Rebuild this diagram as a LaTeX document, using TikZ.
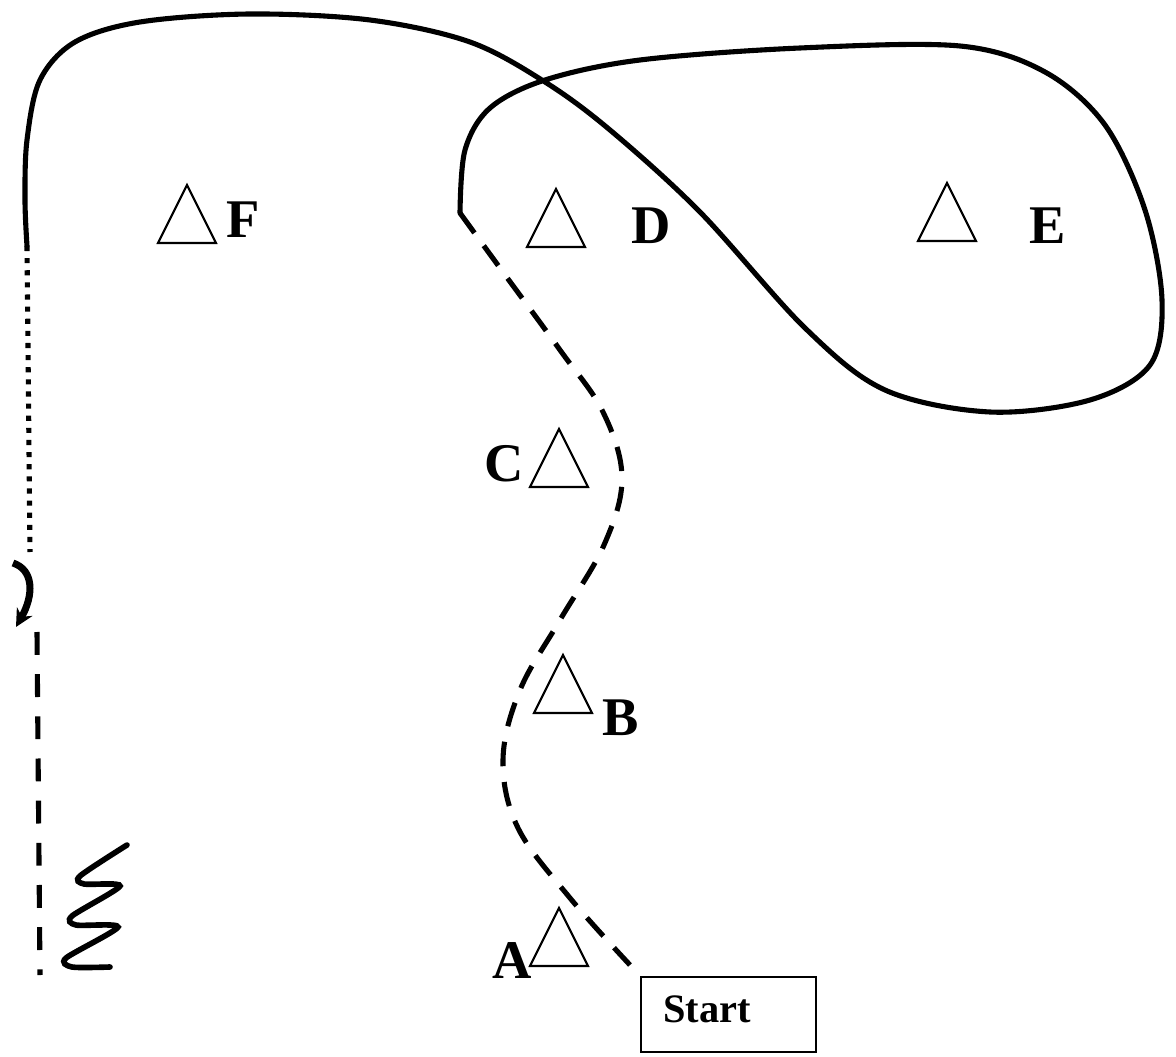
\documentclass[tikz,border=0pt]{standalone}
\usepackage{fontspec}
\setmainfont{Liberation Serif}
\usepackage{tikz}
\usetikzlibrary{arrows.meta, positioning, calc}
\definecolor{ink}{HTML}{000000}
\tikzset{
  lbl/.style={font=\fontsize{31}{31}\selectfont\bfseries, text=ink, inner sep=0pt},
  loopline/.style={line width=2.9pt, color=ink, line cap=round},
  trail/.style={line width=2.9pt, color=ink, dash pattern=on 14pt off 9pt},
  mark/.pic={\draw[line width=1.2pt, color=ink] (-29,0) -- (0,-58) -- (29,0) -- cycle;},
}

\begin{document}
\begin{tikzpicture}[x=0.02cm, y=-0.02cm]
  \useasboundingbox (0,0) rectangle (1176,1057);
  % triangles
  \foreach \px/\py in {187/243, 556/247, 947/241, 559/487, 563/713, 559/966}
    { \pic at (\px,\py) {mark}; }
  % letters
  \node[lbl] (lblF) at (243,220) {F};
  \node[lbl] (lblD) at (651,226) {D};
  \node[lbl] (lblE) at (1048,226) {E};
  \node[lbl] (lblC) at (504,464) {C};
  \node[lbl] (lblB) at (621,718) {B};
  \node[lbl] (lblA) at (512,961) {A};
  % start box
  \node[draw=ink, line width=1.2pt, minimum width=3.5cm, minimum height=1.5cm] (start) at (728.5,1014.5) {};
  \node[font=\fontsize{23}{23}\selectfont\bfseries, anchor=base west, inner sep=0pt] (startlbl) at (663,1022) {Start};
  \coordinate (turn) at (460,213);
  \coordinate (tail) at (630,965);
  \coordinate (topend) at (27,246);
  \coordinate (dotend) at (30,552);
  \coordinate (hookA) at (13,563);
  \coordinate (hookB) at (16,627);
  \coordinate (dashA) at (37,632);
  \coordinate (dashB) at (40,975);
  % dashed walk from start to D
  \draw[trail] plot[smooth, tension=0.6] coordinates {(turn) (500,268) (560,350) (603,412) (622,478) (604,545) (560,620) (520,690) (503,760) (518,828) (570,898) (tail)};
  % solid loop round E and back over to the left
  \draw[loopline] plot[smooth, tension=0.55] coordinates {(turn) (465,150) (490,108) (545,80) (640,60) (800,48) (960,46) (1045,72) (1105,125) (1145,210) (1162,300) (1150,365) (1090,400) (990,412) (885,390) (805,328) (700,212) (610,130) (545,82) (470,42) (370,20) (250,14) (140,22) (75,42) (40,80) (27,140) (25,200) (topend)};
  \draw[line width=2.9pt, color=ink, dash pattern=on 2.9pt off 4pt] (topend) -- (dotend);
  \draw[line width=4pt, color=ink, -{Stealth[length=10pt, width=10pt]}] (hookA) .. controls (34,570) and (34,595) .. (hookB);
  \draw[line width=2.9pt, color=ink, dash pattern=on 13pt off 11pt] (dashA) -- (dashB);
  % zigzag
  \draw[line width=3.2pt, color=ink, line cap=round] plot[smooth, tension=0.45] coordinates {(127,845) (80,876) (84,884) (120,886) (72,916) (76,925) (118,927) (66,958) (72,967) (110,967)};
\end{tikzpicture}
\end{document}
